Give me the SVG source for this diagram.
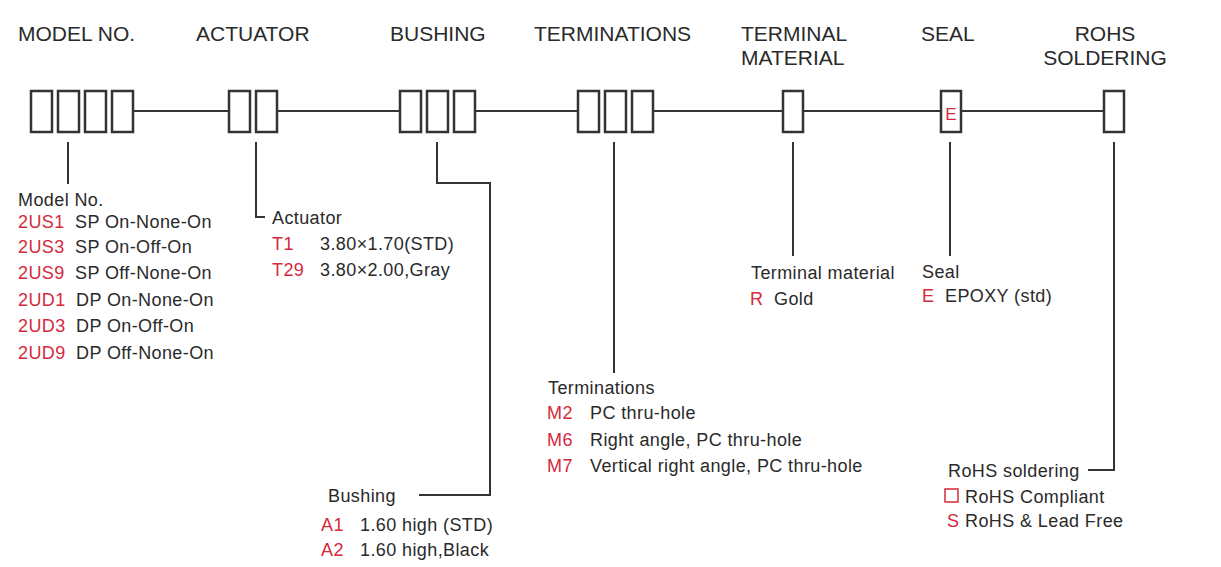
<svg xmlns="http://www.w3.org/2000/svg" width="1221" height="567" viewBox="0 0 1221 567">
<style>
  text { font-family: "Liberation Sans", Arial, sans-serif; fill: #2a2a2a; }
  .hdr { font-size: 21px; }
  .lbl { font-size: 18px; letter-spacing: 0.4px; }
  .red { fill: #d42a3c; }
  .box { fill: #fff; stroke: #333; stroke-width: 2.5; }
  .ln { fill: none; stroke: #333; stroke-width: 2; }
</style>
<rect width="1221" height="567" fill="#fff"/>

<g id="connectors">
  <line class="ln" x1="133" y1="111" x2="229" y2="111"/>
  <line class="ln" x1="277" y1="111" x2="400" y2="111"/>
  <line class="ln" x1="475" y1="111" x2="578" y2="111"/>
  <line class="ln" x1="653" y1="111" x2="783" y2="111"/>
  <line class="ln" x1="803" y1="111" x2="941" y2="111"/>
  <line class="ln" x1="961" y1="111" x2="1104" y2="111"/>
  <polyline class="ln" points="68,142 68,184"/>
  <polyline class="ln" points="256,142 256,217 265,217"/>
  <polyline class="ln" points="437,142 437,183 490,183 490,495 419,495"/>
  <polyline class="ln" points="614,142 614,373"/>
  <polyline class="ln" points="793,142 793,256"/>
  <polyline class="ln" points="950,142 950,256"/>
  <polyline class="ln" points="1114,142 1114,470 1088,470"/>
</g>

<g id="model">
  <text class="hdr" x="18" y="41">MODEL NO.</text>
  <rect class="box" x="31" y="91" width="21" height="41"/>
  <rect class="box" x="58" y="91" width="21" height="41"/>
  <rect class="box" x="85" y="91" width="21" height="41"/>
  <rect class="box" x="112" y="91" width="21" height="41"/>
  <text class="lbl" x="18" y="206">Model No.</text>
  <text class="lbl red" x="18" y="228">2US1</text><text class="lbl" x="75" y="228">SP On-None-On</text>
  <text class="lbl red" x="18" y="253">2US3</text><text class="lbl" x="75" y="253">SP On-Off-On</text>
  <text class="lbl red" x="18" y="279">2US9</text><text class="lbl" x="75" y="279">SP Off-None-On</text>
  <text class="lbl red" x="18" y="306">2UD1</text><text class="lbl" x="76" y="306">DP On-None-On</text>
  <text class="lbl red" x="18" y="332">2UD3</text><text class="lbl" x="76" y="332">DP On-Off-On</text>
  <text class="lbl red" x="18" y="359">2UD9</text><text class="lbl" x="76" y="359">DP Off-None-On</text>
</g>

<g id="actuator">
  <text class="hdr" x="196" y="41">ACTUATOR</text>
  <rect class="box" x="229" y="91" width="21" height="41"/>
  <rect class="box" x="256" y="91" width="21" height="41"/>
  <text class="lbl" x="272" y="224">Actuator</text>
  <text class="lbl red" x="272" y="250">T1</text><text class="lbl" x="320" y="250">3.80×1.70(STD)</text>
  <text class="lbl red" x="272" y="276">T29</text><text class="lbl" x="320" y="276">3.80×2.00,Gray</text>
</g>

<g id="bushing">
  <text class="hdr" x="390" y="41">BUSHING</text>
  <rect class="box" x="400" y="91" width="21" height="41"/>
  <rect class="box" x="427" y="91" width="21" height="41"/>
  <rect class="box" x="454" y="91" width="21" height="41"/>
  <text class="lbl" x="328" y="502">Bushing</text>
  <text class="lbl red" x="321" y="531">A1</text><text class="lbl" x="360" y="531">1.60 high (STD)</text>
  <text class="lbl red" x="321" y="556">A2</text><text class="lbl" x="360" y="556">1.60 high,Black</text>
</g>

<g id="terminations">
  <text class="hdr" x="534" y="41">TERMINATIONS</text>
  <rect class="box" x="578" y="91" width="21" height="41"/>
  <rect class="box" x="605" y="91" width="21" height="41"/>
  <rect class="box" x="632" y="91" width="21" height="41"/>
  <text class="lbl" x="548" y="394">Terminations</text>
  <text class="lbl red" x="547" y="419">M2</text><text class="lbl" x="590" y="419">PC thru-hole</text>
  <text class="lbl red" x="547" y="446">M6</text><text class="lbl" x="590" y="446">Right angle, PC thru-hole</text>
  <text class="lbl red" x="547" y="472">M7</text><text class="lbl" x="590" y="472">Vertical right angle, PC thru-hole</text>
</g>

<g id="terminal-material">
  <text class="hdr" x="741" y="41">TERMINAL</text>
  <text class="hdr" x="741" y="65">MATERIAL</text>
  <rect class="box" x="783" y="91" width="20" height="41"/>
  <text class="lbl" x="751" y="279">Terminal material</text>
  <text class="lbl red" x="750" y="305">R</text><text class="lbl" x="774" y="305">Gold</text>
</g>

<g id="seal">
  <text class="hdr" x="921" y="41">SEAL</text>
  <rect class="box" x="941" y="91" width="20" height="41"/>
  <text class="red" x="951" y="120" font-size="17" text-anchor="middle">E</text>
  <text class="lbl" x="922" y="278">Seal</text>
  <text class="lbl red" x="922" y="302">E</text><text class="lbl" x="945" y="302">EPOXY (std)</text>
</g>

<g id="rohs">
  <text class="hdr" x="1105" y="41" text-anchor="middle">ROHS</text>
  <text class="hdr" x="1105" y="65" text-anchor="middle">SOLDERING</text>
  <rect class="box" x="1104" y="91" width="20" height="41"/>
  <text class="lbl" x="948" y="477">RoHS soldering</text>
  <rect x="945" y="489" width="13" height="13" fill="none" stroke="#d42a3c" stroke-width="1.5"/>
  <text class="lbl" x="965" y="503">RoHS Compliant</text>
  <text class="lbl red" x="947" y="527">S</text><text class="lbl" x="965" y="527">RoHS &amp; Lead Free</text>
</g>
</svg>
